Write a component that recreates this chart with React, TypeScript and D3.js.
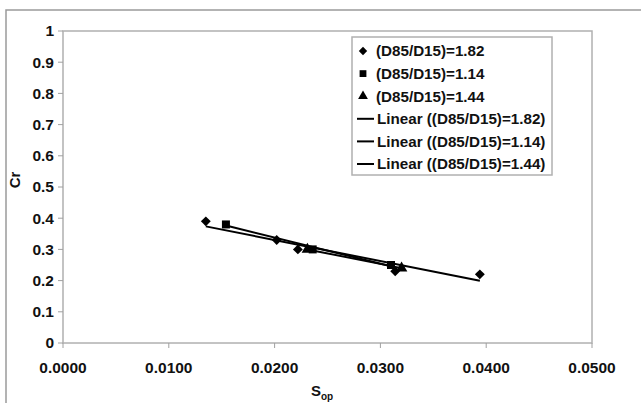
import React from "react";
import * as d3 from "d3";

const xTicks = [0, 0.01, 0.02, 0.03, 0.04, 0.05];
const yTicks = [0, 0.1, 0.2, 0.3, 0.4, 0.5, 0.6, 0.7, 0.8, 0.9, 1];

const s182x = [0.0135, 0.0202, 0.0222, 0.0314, 0.0394];
const s182y = [0.39, 0.33, 0.30, 0.23, 0.22];
const s114x = [0.0154, 0.0236, 0.0310];
const s114y = [0.38, 0.30, 0.25];
const s144x = [0.0231, 0.0320];
const s144y = [0.30, 0.24];

const legendLabels = [
  "(D85/D15)=1.82",
  "(D85/D15)=1.14",
  "(D85/D15)=1.44",
  "Linear ((D85/D15)=1.82)",
  "Linear ((D85/D15)=1.14)",
  "Linear ((D85/D15)=1.44)",
];

function fit(xs: number[], ys: number[]) {
  const mx = d3.mean(xs)!;
  const my = d3.mean(ys)!;
  let sxy = 0, sxx = 0;
  xs.forEach((x, i) => { sxy += (x - mx) * (ys[i] - my); sxx += (x - mx) ** 2; });
  const b = sxy / sxx;
  const a = my - b * mx;
  const [x0, x1] = d3.extent(xs) as [number, number];
  return [[x0, a + b * x0], [x1, a + b * x1]] as [number, number][];
}

const FONT = "'Liberation Sans', Arial, sans-serif";

export default function App() {
  const W = 641, H = 403;
  const L = 63, R = 592, T = 31, B = 343;
  const x = d3.scaleLinear().domain([0, 0.05]).range([L, R]);
  const y = d3.scaleLinear().domain([0, 1]).range([B, T]);
  const line = d3.line<[number, number]>().x(d => x(d[0])).y(d => y(d[1]));

  const diamond = d3.symbol().type(d3.symbolDiamond2).size(62)()!;
  const square = d3.symbol().type(d3.symbolSquare).size(64)()!;
  const triangle = d3.symbol().type(d3.symbolTriangle).size(58)()!;

  const series = [
    { xs: s182x, ys: s182y, path: diamond },
    { xs: s114x, ys: s114y, path: square },
    { xs: s144x, ys: s144y, path: triangle },
  ];

  const legX = 352, legY = 37, legW = 200, legH = 138, rowH = 22.6;

  return (
    <svg width={W} height={H} style={{ position: "absolute", left: 0, top: 0, background: "#fff" }}>
      <rect x={0} y={0} width={W} height={H} fill="#fff" />
      <path d={`M6,${H} V10 H${W}`} fill="none" stroke="#9a9a9a" strokeWidth={1.5} />
      <rect x={L} y={T} width={R - L} height={B - T} fill="none" stroke="#b0b0b0" strokeWidth={1.5} />
      {yTicks.map(t => (
        <g key={"y" + t}>
          <line x1={L - 5} x2={L} y1={y(t)} y2={y(t)} stroke="#a0a0a0" strokeWidth={1} />
          <text x={L - 9} y={y(t)} dy="0.35em" textAnchor="end" fontFamily={FONT} fontWeight="bold" fontSize={15.5} fill="#111">
            {d3.format("")(t)}
          </text>
        </g>
      ))}
      {xTicks.map(t => (
        <g key={"x" + t}>
          <line x1={x(t)} x2={x(t)} y1={B} y2={B + 5} stroke="#a0a0a0" strokeWidth={1} />
          <text x={x(t)} y={373} textAnchor="middle" fontFamily={FONT} fontWeight="bold" fontSize={15.5} fill="#111">
            {d3.format(".4f")(t)}
          </text>
        </g>
      ))}
      <text transform="translate(20,180) rotate(-90)" textAnchor="middle" fontFamily={FONT} fontWeight="bold" fontSize={15} fill="#111">Cr</text>
      <text x={322} y={396} fontFamily={FONT} fontWeight="bold" fontSize={15} fill="#111" textAnchor="middle">
        S<tspan fontSize={10} dy={4}>op</tspan>
      </text>
      {series.map((s, i) => (
        <path key={"l" + i} d={line(fit(s.xs, s.ys))!} fill="none" stroke="#000" strokeWidth={2} />
      ))}
      {series.map((s, i) => s.xs.map((v, j) => (
        <path key={"p" + i + "_" + j} d={s.path} transform={`translate(${x(v)},${y(s.ys[j])})`} fill="#000" />
      )))}
      <rect x={legX} y={legY} width={legW} height={legH} fill="#fff" stroke="#b0b0b0" strokeWidth={1.5} />
      {legendLabels.map((lab, i) => {
        const cy = legY + 14 + i * rowH;
        return (
          <g key={"lg" + i}>
            {i < 3 ? (
              <path d={series[i].path} transform={`translate(363,${cy}) scale(0.85)`} fill="#000" />
            ) : (
              <line x1={357} x2={374} y1={cy} y2={cy} stroke="#000" strokeWidth={2} />
            )}
            <text x={i < 3 ? 376 : 377} y={cy} dy="0.35em" fontFamily={FONT} fontWeight="bold" fontSize={15.2} fill="#111">
              {lab}
            </text>
          </g>
        );
      })}
    </svg>
  );
}
